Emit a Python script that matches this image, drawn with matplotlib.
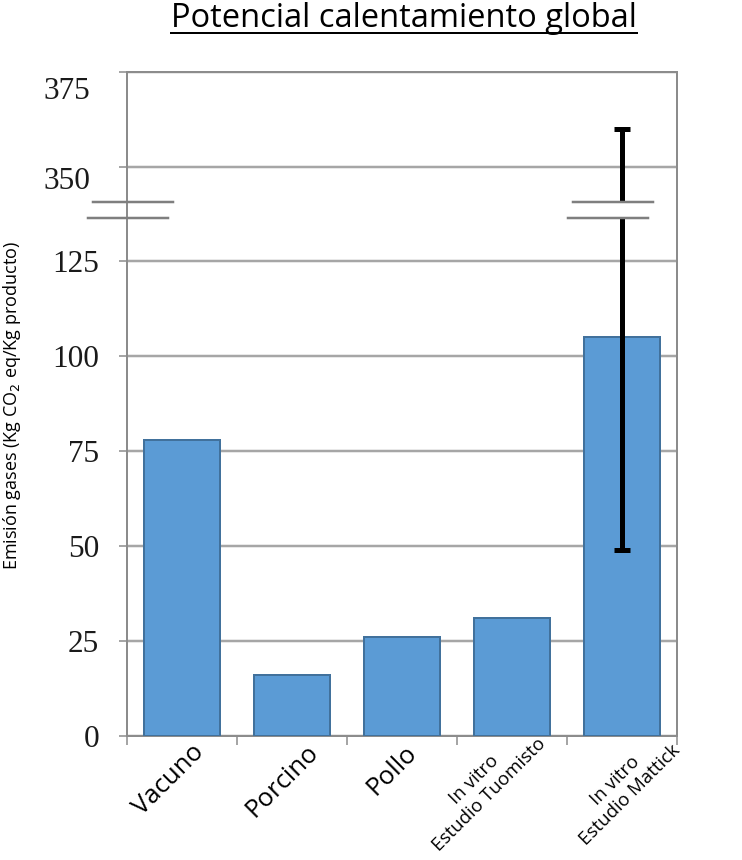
import matplotlib
matplotlib.use("Agg")
import matplotlib.pyplot as plt
from matplotlib.lines import Line2D
from matplotlib.transforms import ScaledTranslation

categories = ["Vacuno", "Porcino", "Pollo",
              "In vitro\nEstudio Tuomisto", "In vitro\nEstudio Mattick"]
values = [78, 16, 26, 31, 105]
err_low = [None, None, None, None, 49]
err_high = [None, None, None, None, 360]
low_ticks = [0, 25, 50, 75, 100, 125]
high_ticks = [350, 375]

BAR = "#5b9bd5"
BAR_EDGE = "#41719c"
GRID = "#a6a6a6"
FRAME = "#8c8c8c"

W, H = 742, 860
fig = plt.figure(figsize=(W / 100, H / 100), dpi=100)


def rect(l, t, r, b):
    return [l / W, 1 - b / H, (r - l) / W, (b - t) / H]


def px(v):  # pixels -> points
    return v * 0.72


def shift(lab, dx, dy):
    lab.set_transform(lab.get_transform() + ScaledTranslation(dx / 100, dy / 100, fig.dpi_scale_trans))


ax_top = fig.add_axes(rect(127, 72, 677, 202))
ax_bot = fig.add_axes(rect(127, 218, 677, 736))

x = list(range(len(categories)))
for ax in (ax_top, ax_bot):
    ax.bar(x, values, 0.69, color=BAR, edgecolor=BAR_EDGE, linewidth=px(2), zorder=3)
    for i, (lo, hi) in enumerate(zip(err_low, err_high)):
        if lo is None:
            continue
        ax.errorbar(i, values[i], yerr=[[values[i] - lo], [hi - values[i]]],
                    fmt="none", ecolor="black", elinewidth=px(5),
                    capsize=px(8), capthick=px(5), zorder=4)
    ax.set_xlim(-0.5, 4.5)
    ax.yaxis.grid(True, color=GRID, linewidth=px(2.5), zorder=0)
    ax.set_axisbelow(True)
    for s in ax.spines.values():
        s.set_color(FRAME)
        s.set_linewidth(px(2))
    ax.tick_params(axis="y", length=px(8), width=px(2), color=GRID,
                   labelsize=22.5, labelcolor="#1a1a1a")

ax_top.set_ylim(375 - 130 / 3.8, 375)
ax_top.set_yticks(high_ticks)
ax_top.spines["bottom"].set_visible(False)
ax_top.set_xticks([])
ax_top.tick_params(axis="y", pad=px(29))
for lab, dy in zip(ax_top.get_yticklabels(), [11, 16]):
    lab.set_fontfamily("Liberation Serif")
    shift(lab, 0, -dy)

ax_bot.set_ylim(0, 518 / 3.8)
ax_bot.set_yticks(low_ticks)
ax_bot.spines["top"].set_visible(False)
ax_bot.tick_params(axis="y", pad=px(20))
for lab in ax_bot.get_yticklabels():
    lab.set_fontfamily("Liberation Serif")

ax_bot.set_xticks(x, categories)
ax_bot.set_xticks([i - 0.5 for i in range(len(categories) + 1)], minor=True)
ax_bot.tick_params(axis="x", which="major", length=0, pad=px(4))
ax_bot.tick_params(axis="x", which="minor", length=px(9), width=px(2), color=GRID)
offsets = [(9, 0), (14, 0), (2, 0), (10, 20), (34, 13)]
sizes = [18.5, 18.5, 18.5, 13.5, 13.5]
for lab, (dx, dy), fs in zip(ax_bot.get_xticklabels(), offsets, sizes):
    lab.set_rotation(45)
    lab.set_ha("right")
    lab.set_va("top")
    lab.set_rotation_mode("anchor")
    lab.set_multialignment("center")
    lab.set_fontfamily("Open Sans")
    lab.set_fontsize(fs)
    shift(lab, dx, dy)


def fig_line(x0, y0, x1, y1, **kw):
    fig.add_artist(Line2D([x0 / W, x1 / W], [1 - y0 / H, 1 - y1 / H],
                          transform=fig.transFigure, **kw))


# spines through the gap and the break marks
fig_line(127, 202, 127, 218, color=FRAME, linewidth=px(2))
fig_line(677, 202, 677, 218, color=FRAME, linewidth=px(2))
for (a, b) in [(93, 173), (573, 653)]:
    fig_line(a, 202, b, 202, color="#7f7f7f", linewidth=px(2.5))
    fig_line(a - 5, 218, b - 5, 218, color="#7f7f7f", linewidth=px(2.5))

fig.text(12 / W, 1 - 405 / H, "Emisión gases (Kg CO$_2$ eq/Kg producto)",
         rotation=90, ha="center", va="center", fontsize=13, fontfamily="Open Sans")

title = fig.text(404 / W, 1 - 27 / H, "Potencial calentamiento global",
                 ha="center", va="baseline", fontsize=23.5, fontfamily="Open Sans")
fig.canvas.draw()
bb = title.get_window_extent()
fig.add_artist(Line2D([bb.x0 / W, bb.x1 / W], [1 - 33 / H, 1 - 33 / H],
                      transform=fig.transFigure, color="black", linewidth=px(2)))

fig.savefig("out.png", dpi=100, facecolor="white")
